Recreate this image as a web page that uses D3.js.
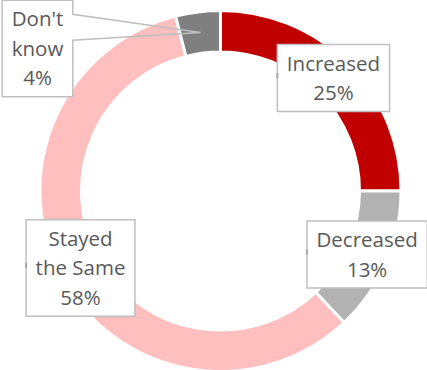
<!DOCTYPE html>
<html>
<head>
<meta charset="utf-8">
<script src="https://cdn.jsdelivr.net/npm/d3@7/dist/d3.min.js"></script>
<style>
  html, body { margin: 0; padding: 0; background: #fff; }
  svg { display: block; }
</style>
</head>
<body>
<svg id="chart" width="427" height="370"></svg>
<script>
// Survey answers, clockwise from 12 o'clock
const categories = ["Increased", "Decreased", "Stayed the Same", "Don't know"];
const values = [25, 13, 58, 4];
const colors = ["#C00000", "#B2B2B2", "#FFBFBF", "#7F7F7F"];
const labelLines = [
  ["Increased", "25%"],
  ["Decreased", "13%"],
  ["Stayed", "the Same", "58%"],
  ["Don't", "know", "4%"]
];

const W = 427, H = 370;
const cx = 220.5, cy = 191;
const outerR = 180.5, innerR = 139;
const fontSize = 20.5, lineH = 29.5;

const svg = d3.select("#chart");
const g = svg.append("g").attr("transform", `translate(${cx},${cy})`);

const pie = d3.pie().sort(null).value(d => d.value);
const arcs = pie(categories.map((c, i) => ({ name: c, value: values[i], i })));

const arc = d3.arc().innerRadius(innerR).outerRadius(outerR);
const midArc = d3.arc().innerRadius(innerR).outerRadius(outerR);

g.selectAll("path.slice")
  .data(arcs)
  .join("path")
  .attr("class", "slice")
  .attr("d", arc)
  .attr("fill", d => colors[d.data.i])
  .attr("stroke", "#fff")
  .attr("stroke-width", 3)
  .attr("stroke-linejoin", "miter");

// data-label callouts: centred on the ring, the small slice pulled out to the top-left
const labelShift = { "Don't know": [-163, 16] };

const labels = g.append("g").attr("class", "labels");
arcs.forEach(d => {
  const lines = labelLines[d.data.i];
  const [mx, my] = midArc.centroid(d);
  const shift = labelShift[d.data.name] || [0, 0];
  const bx = mx + shift[0], by = my + shift[1];

  const lg = labels.append("g");
  const texts = lg.selectAll("text")
    .data(lines)
    .join("text")
    .attr("x", bx)
    .attr("y", (t, k) => by + (k - (lines.length - 1) / 2) * lineH)
    .attr("dy", "0.36em")
    .attr("text-anchor", "middle")
    .attr("font-family", "'Open Sans', sans-serif")
    .attr("font-size", fontSize)
    .attr("fill", "#595959")
    .text(t => t);

  let tw = 0;
  texts.each(function () { tw = Math.max(tw, this.getComputedTextLength()); });
  const bw = tw + 19;
  const bh = lines.length * lineH + 8;
  const x0 = bx - bw / 2, x1 = bx + bw / 2, y0 = by - bh / 2, y1 = by + bh / 2;

  let dPath;
  const tipInside = Math.abs(mx - bx) < bw / 2 && Math.abs(my - by) < bh / 2;
  if (!tipInside) {
    // pointer leaves from the right side towards the slice
    const pa = y0 + 14, pb = y0 + 40;
    dPath = `M${x0},${y0}H${x1}V${pa}L${mx},${my}L${x1},${pb}V${y1}H${x0}Z`;
  } else {
    dPath = `M${x0},${y0}H${x1}V${y1}H${x0}Z`;
  }
  lg.insert("path", "text")
    .attr("d", dPath)
    .attr("fill", tipInside ? "#fff" : "none")
    .attr("stroke", "#BFBFBF")
    .attr("stroke-width", 1.5);
  if (!tipInside) {
    lg.insert("rect", "path")
      .attr("x", x0).attr("y", y0).attr("width", bw).attr("height", bh)
      .attr("fill", "#fff");
  } else {
    // collapsed pointer stub on the left edge
    lg.append("line")
      .attr("x1", x0).attr("x2", x0)
      .attr("y1", by - 5).attr("y2", by)
      .attr("stroke", "#A6A6A6").attr("stroke-width", 2);
  }
});
</script>
</body>
</html>
